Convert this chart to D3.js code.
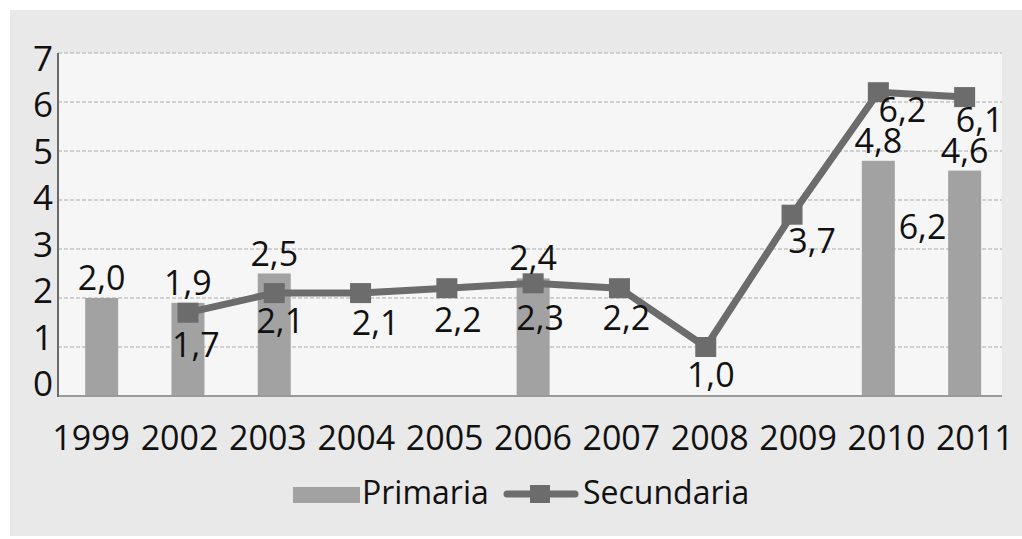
<!DOCTYPE html>
<html><head><meta charset="utf-8">
<script src="https://cdn.jsdelivr.net/npm/d3@7"></script>
<style>
body{margin:0;background:#fff}
svg{display:block}
text{font-family:"Open Sans",sans-serif;fill:#111}
</style>
</head><body>
<svg id="c" width="1022" height="539"></svg>
<script>
// ---- data ----
const categories = ["1999","2002","2003","2004","2005","2006","2007","2008","2009","2010","2011"];
const primaria   = [2.0, 1.9, 2.5, null, null, 2.4, null, null, null, 4.8, 4.6];
const secundaria = [null, 1.7, 2.1, 2.1, 2.2, 2.3, 2.2, 1.0, 3.7, 6.2, 6.1];
const yTicks = [0,1,2,3,4,5,6,7];
const seriesNames = ["Primaria","Secundaria"];
const strayLabelText = "6,2";   // extra label shown between 2010 and 2011
const strayLabelValue = 3.2;

// ---- layout / style ----
const W = 1022, H = 539;
const plot = {left:58, right:1002, top:53, bottom:396};
const colBar = "#a2a2a2", colLine = "#6c6c6c";
// per-label nudges for Secundaria labels (dx, dy from marker), layout only
const secNudge = [[0,0],[8,44],[6,40],[15,42],[11,44],[7,47],[7,42],[5,40],[20,38],[24,30],[15,35]];

const svg = d3.select("#c");
const fmt = v => d3.format(".1f")(v).replace(".", ",");

svg.append("rect").attr("x",10).attr("y",10).attr("width",W-10).attr("height",526).attr("fill","#e9e9e9");
svg.append("rect").attr("x",plot.left).attr("y",plot.top).attr("width",plot.right-plot.left).attr("height",plot.bottom-plot.top).attr("fill","#f6f6f6");

const x = d3.scaleBand().domain(categories).range([58.3, 1008]).paddingInner(0.615).paddingOuter(0.31);
const xc = c => x(c) + x.bandwidth()/2;
const y = d3.scaleLinear().domain([0,7]).range([plot.bottom, plot.top]);
const yLab = d3.scaleLinear().domain([0,7]).range([396, 70.5]);
const xLab = d3.scaleBand().domain(categories).range([47, 1019]);

// gridlines
svg.append("g").selectAll("line").data(yTicks.filter(t=>t>0)).join("line")
  .attr("x1",plot.left).attr("x2",plot.right)
  .attr("y1",d=>y(d)).attr("y2",d=>y(d))
  .attr("stroke","#c4c4c4").attr("stroke-width",1.3).attr("stroke-dasharray","4,2");

// bars
const barData = categories.map((c,i)=>({c, v:primaria[i]})).filter(d=>d.v!=null);
svg.append("g").selectAll("rect").data(barData).join("rect")
  .attr("x",d=>xc(d.c)-16.5).attr("width",33)
  .attr("y",d=>y(d.v)).attr("height",d=>y(0)-y(d.v))
  .attr("fill",colBar);

// axes
svg.append("line").attr("x1",plot.left).attr("x2",plot.right).attr("y1",plot.bottom).attr("y2",plot.bottom)
  .attr("stroke","#9a9a9a").attr("stroke-width",2);
svg.append("line").attr("x1",plot.left).attr("x2",plot.left).attr("y1",plot.top).attr("y2",plot.bottom+1)
  .attr("stroke","#6a6a6a").attr("stroke-width",2);

// line
const lineData = categories.map((c,i)=>({c, v:secundaria[i], i})).filter(d=>d.v!=null);
svg.append("path").datum(lineData)
  .attr("d", d3.line().x(d=>xc(d.c)).y(d=>y(d.v)))
  .attr("fill","none").attr("stroke",colLine).attr("stroke-width",7).attr("stroke-linejoin","round");
svg.append("g").selectAll("rect").data(lineData).join("rect")
  .attr("x",d=>xc(d.c)-10.5).attr("y",d=>y(d.v)-10).attr("width",21).attr("height",20)
  .attr("fill",colLine);

// bar labels
svg.append("g").selectAll("text").data(barData).join("text")
  .attr("x",d=>xc(d.c)).attr("y",d=>y(d.v)-8)
  .attr("text-anchor","middle").attr("font-size",34).text(d=>fmt(d.v));

// line labels
svg.append("g").selectAll("text").data(lineData).join("text")
  .attr("x",d=>xc(d.c)+secNudge[d.i][0]).attr("y",d=>y(d.v)+secNudge[d.i][1])
  .attr("text-anchor","middle").attr("font-size",34).text(d=>fmt(d.v));

// stray label
svg.append("text").attr("x",(xc("2010")+xc("2011"))/2+1).attr("y",y(strayLabelValue))
  .attr("text-anchor","middle").attr("font-size",34).text(strayLabelText);

// y tick labels
svg.append("g").selectAll("text").data(yTicks).join("text")
  .attr("x",53).attr("y",d=>yLab(d)).attr("text-anchor","end").attr("font-size",35).text(d=>d);

// x tick labels
svg.append("g").selectAll("text").data(categories).join("text")
  .attr("x",d=>xLab(d)+xLab.bandwidth()/2).attr("y",450)
  .attr("text-anchor","middle").attr("font-size",34).text(d=>d);

// legend
const lg = svg.append("g");
lg.append("rect").attr("x",293).attr("y",487).attr("width",67).attr("height",16).attr("fill",colBar);
lg.append("text").attr("x",362).attr("y",504).attr("font-size",32).text(seriesNames[0]);
lg.append("line").attr("x1",507).attr("x2",575).attr("y1",494).attr("y2",494)
  .attr("stroke",colLine).attr("stroke-width",7).attr("stroke-linecap","round");
lg.append("rect").attr("x",530).attr("y",485).attr("width",20).attr("height",18).attr("fill",colLine);
lg.append("text").attr("x",583).attr("y",504).attr("font-size",32).text(seriesNames[1]);
</script>
</body></html>
